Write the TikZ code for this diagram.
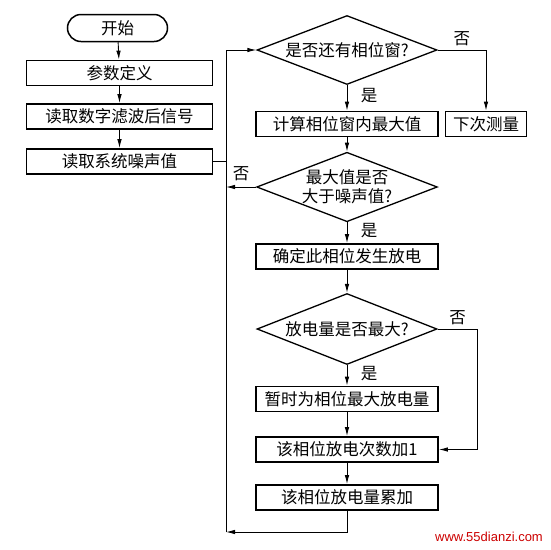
\documentclass[tikz,border=0pt]{standalone}
\usepackage{fontspec}
\setmainfont{Noto Sans CJK SC}
\newfontfamily\wmfont{Liberation Sans}
\usepackage{tikz}
\usetikzlibrary{shapes.geometric,arrows.meta}

\begin{document}
\begin{tikzpicture}[x=1pt,y=-1pt,
		box/.style={draw,line width=1.8pt,minimum width=182pt,minimum height=25pt,inner sep=0pt,font=\fontsize{16.5}{19.5}\selectfont},
		cond/.style={draw,diamond,aspect=2.6,line width=1.3pt,minimum width=180pt,minimum height=69pt,inner sep=0pt,align=center,font=\fontsize{16.5}{19.5}\selectfont},
		arr/.style={-{Latex[length=9pt,width=4.5pt]},line width=0.9pt},
		lbl/.style={font=\fontsize{16.5}{19.5}\selectfont}]
			
			\useasboundingbox (0,0) rectangle (550,550);
			
			\node[draw,rounded corners=13.5pt,line width=1.5pt,minimum width=100pt,minimum height=27pt,font=\fontsize{16.5}{19.5}\selectfont] (start) at (117.5,28) {开始};
			\node[box,minimum width=186pt] (def) at (119.5,73) {参数定义};
			\node[box,minimum width=186pt] (read) at (119.5,116.5) {读取数字滤波后信号};
			\node[box,minimum width=186pt] (noise) at (119.5,161.5) {读取系统噪声值};
			
			\node[cond] (win) at (347,50) {是否还有相位窗?};
			\node[box] (maxv) at (347,124) {计算相位窗内最大值};
			\node[box,minimum width=81pt] (next) at (486,124) {下次测量};
			\node[cond] (cmp) at (347,187) {最大值是否\\大于噪声值?};
			\node[box] (disc) at (347,256.5) {确定此相位发生放电};
			\node[cond,minimum height=71pt] (qmax) at (347,329) {放电量是否最大?};
			\node[box] (tmp) at (347,399) {暂时为相位最大放电量};
			\node[box] (cnt) at (347,449.5) {该相位放电次数加1};
			\node[box] (sum) at (347,497.5) {该相位放电量累加};
			
			\coordinate (lt) at (226,50);
			\coordinate (lb) at (226,532);
			
			\node[text=red!80!black,font=\wmfont\fontsize{13}{15}\selectfont] (wm) at (489,537) {www.55dianzi.com};
			
			\draw[arr] (start) -- (def);
			\draw[arr] (def) -- (read);
			\draw[arr] (read) -- (noise);
			\draw[line width=0.9pt] (noise.east) -- (noise.east -| lt);
			
			\draw[arr] (win.east) -| node[lbl,pos=0.25,above]{否} (next.north);
			\draw[arr] (win.south) -- node[lbl,pos=0.4,right=10pt]{是} (maxv.north);
			\draw[arr] (maxv) -- (cmp);
			\draw[arr] (cmp.west) -- node[lbl,above=2pt]{否} (cmp.west -| lt);
			\draw[arr] (cmp.south) -- node[lbl,pos=0.4,right=10pt]{是} (disc.north);
			\draw[arr] (disc) -- (qmax);
			\draw[arr] (qmax.east) -- node[lbl,above]{否} ++(40,0) |- (cnt.east);
			\draw[arr] (qmax.south) -- node[lbl,pos=0.4,right=10pt]{是} (tmp.north);
			\draw[arr] (tmp) -- (cnt);
			\draw[arr] (cnt) -- (sum);
			
			\draw[arr] (sum.south) |- (lb);
			\draw[arr] (lb) -- (lt) -- (win.west);
			
		\end{tikzpicture}
\end{document}
